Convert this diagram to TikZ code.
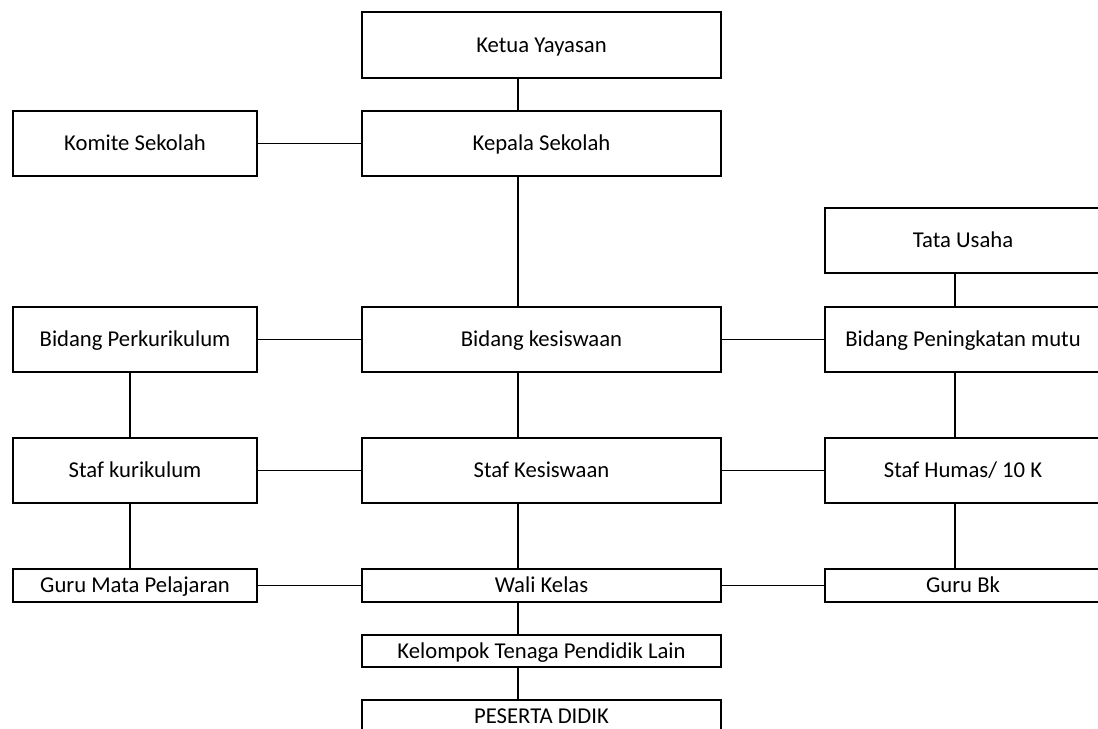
\documentclass[tikz,border=0pt]{standalone}
\usepackage{fontspec}
\setmainfont{Carlito}
\usetikzlibrary{positioning}

\tikzset{
  unit/.style={draw, line width=1.5pt, rectangle, inner sep=0pt, text height=15pt, text depth=4pt, font=\fontsize{17}{19}\selectfont},
  bigunit/.style={unit, minimum height=49pt},
  smallunit/.style={unit, minimum height=24.5pt},
  link/.style={line width=1.2pt}
}

\begin{document}
\begin{tikzpicture}[x=0.75pt,y=-0.75pt]
                \useasboundingbox (0,0) rectangle (1098,728);

                % Top
                \node[bigunit, minimum width=269pt] (ketua) at (541.5,45) {Ketua Yayasan};
                \node[bigunit, minimum width=269pt] (kepala) at (541.5,143.5) {Kepala Sekolah};
                \node[bigunit, minimum width=183pt] (komite) at (135,143.5) {Komite Sekolah};
                \node[bigunit, minimum width=207pt] (tata) at (963,240.5) {Tata Usaha};

                % Bidang
                \node[bigunit, minimum width=183pt] (bidper) at (135,339.5) {Bidang Perkurikulum};
                \node[bigunit, minimum width=269pt] (bidkes) at (541.5,339.5) {Bidang kesiswaan};
                \node[bigunit, minimum width=207pt] (bidmutu) at (963,339.5) {Bidang Peningkatan mutu};

                % Staf
                \node[bigunit, minimum width=183pt] (stafkur) at (135,470.5) {Staf kurikulum};
                \node[bigunit, minimum width=269pt] (stafkes) at (541.5,470.5) {Staf Kesiswaan};
                \node[bigunit, minimum width=207pt] (stafhumas) at (963,470.5) {Staf Humas/ 10 K};

                % Guru
                \node[smallunit, minimum width=183pt] (guru) at (135,585.5) {Guru Mata Pelajaran};
                \node[smallunit, minimum width=269pt] (wali) at (541.5,585.5) {Wali Kelas};
                \node[smallunit, minimum width=207pt] (gurubk) at (963,585.5) {Guru Bk};
                \node[smallunit, minimum width=269pt] (kelompok) at (541.5,651) {Kelompok Tenaga Pendidik Lain};
                \node[smallunit, minimum width=269pt] (peserta) at (541.5,716.5) {PESERTA DIDIK};

                % Spines
                \coordinate (midspine) at (518,0);
                \coordinate (leftspine) at (130,0);
                \coordinate (rightspine) at (955,0);

                % Connections
                \draw[link] (ketua.south -| midspine) -- (kepala.north -| midspine);
                \draw[link] (komite.east) -- (kepala.west);
                \draw[link] (kepala.south -| midspine) -- (bidkes.north -| midspine);
                \draw[link] (tata.south -| rightspine) -- (bidmutu.north -| rightspine);
                \draw[link] (bidper.east) -- (bidkes.west);
                \draw[link] (bidkes.east) -- (bidmutu.west);
                \draw[link] (bidper.south -| leftspine) -- (stafkur.north -| leftspine);
                \draw[link] (bidkes.south -| midspine) -- (stafkes.north -| midspine);
                \draw[link] (bidmutu.south -| rightspine) -- (stafhumas.north -| rightspine);
                \draw[link] (stafkur.east) -- (stafkes.west);
                \draw[link] (stafkes.east) -- (stafhumas.west);
                \draw[link] (stafkur.south -| leftspine) -- (guru.north -| leftspine);
                \draw[link] (stafkes.south -| midspine) -- (wali.north -| midspine);
                \draw[link] (stafhumas.south -| rightspine) -- (gurubk.north -| rightspine);
                \draw[link] (guru.east) -- (wali.west);
                \draw[link] (wali.east) -- (gurubk.west);
                \draw[link] (wali.south -| midspine) -- (kelompok.north -| midspine);
                \draw[link] (kelompok.south -| midspine) -- (peserta.north -| midspine);
\end{tikzpicture}
\end{document}
